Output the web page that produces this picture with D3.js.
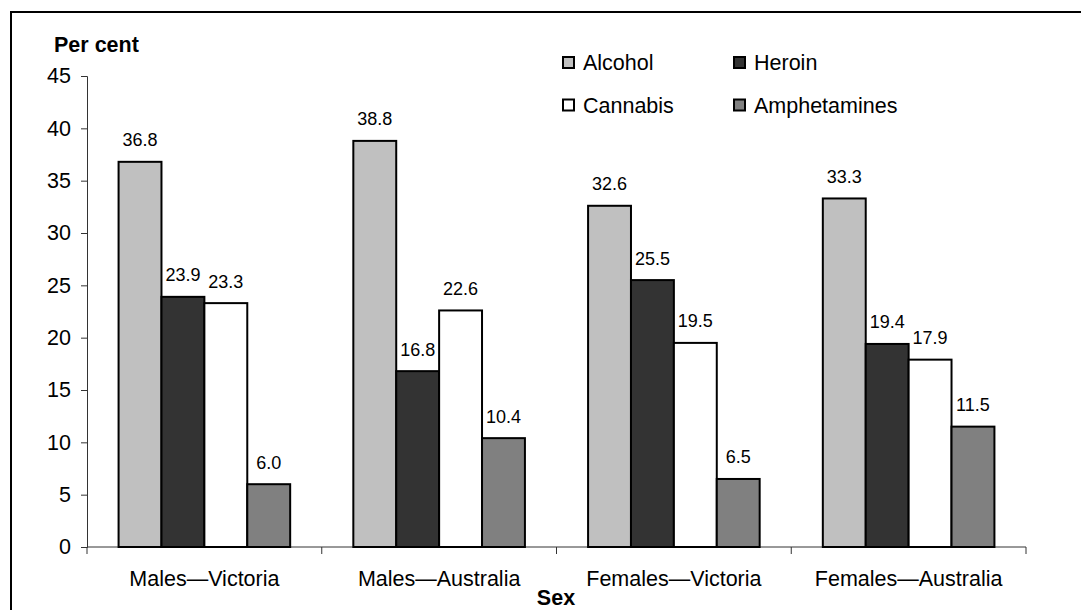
<!DOCTYPE html>
<html>
<head>
<meta charset="utf-8">
<script src="https://cdn.jsdelivr.net/npm/d3@7"></script>
<style>
  html, body { margin: 0; padding: 0; background: #fff; }
  svg { display: block; font-family: "Liberation Sans", Arial, sans-serif; }
</style>
</head>
<body>
<svg id="chart" width="1081" height="610"></svg>
<script>
const categories = ["Males\u2014Victoria", "Males\u2014Australia", "Females\u2014Victoria", "Females\u2014Australia"];
const seriesNames = ["Alcohol", "Heroin", "Cannabis", "Amphetamines"];
const alcohol = [36.8, 38.8, 32.6, 33.3];
const heroin = [23.9, 16.8, 25.5, 19.4];
const cannabis = [23.3, 22.6, 19.5, 17.9];
const amphetamines = [6.0, 10.4, 6.5, 11.5];
const yTicks = [0, 5, 10, 15, 20, 25, 30, 35, 40, 45];
const colors = ["#c0c0c0", "#333333", "#ffffff", "#808080"];

const seriesValues = [alcohol, heroin, cannabis, amphetamines];

const svg = d3.select("#chart");

// frame
svg.append("rect")
  .attr("x", 11).attr("y", 12)
  .attr("width", 1100).attr("height", 700)
  .attr("fill", "none").attr("stroke", "#000").attr("stroke-width", 2);

const plotLeft = 87, plotRight = 1026, plotTop = 76, plotBottom = 547;

const x0 = d3.scaleBand().domain(categories).range([plotLeft, plotRight]).paddingInner(0).paddingOuter(0);
const x1 = d3.scaleBand().domain(seriesNames).range([0, x0.bandwidth()]).paddingInner(0).paddingOuter(0.736);
const y = d3.scaleLinear().domain([0, 45]).range([plotBottom, plotTop]);

// y axis
const yAxis = svg.append("g")
  .attr("transform", `translate(${plotLeft},0)`)
  .call(d3.axisLeft(y).tickValues(yTicks).tickSize(6).tickPadding(10).tickFormat(d3.format("d")));
yAxis.select(".domain").attr("stroke", "#333").attr("stroke-width", 1);
yAxis.selectAll(".tick line").attr("stroke", "#333");
yAxis.selectAll(".tick text")
  .attr("font-family", "Liberation Sans, Arial, sans-serif")
  .attr("font-size", 21.5).attr("fill", "#000");

// x axis
const xAxisG = svg.append("g").attr("transform", `translate(0,${plotBottom})`);
xAxisG.append("line")
  .attr("x1", plotLeft).attr("x2", plotRight)
  .attr("y1", 0).attr("y2", 0)
  .attr("stroke", "#333").attr("stroke-width", 1);
const boundaries = categories.map(c => x0(c)).concat([x0(categories[categories.length - 1]) + x0.bandwidth()]);
xAxisG.selectAll("line.tk").data(boundaries).enter().append("line")
  .attr("class", "tk")
  .attr("x1", d => d).attr("x2", d => d)
  .attr("y1", 0).attr("y2", 7)
  .attr("stroke", "#333").attr("stroke-width", 1);
xAxisG.selectAll("text.cat").data(categories).enter().append("text")
  .attr("class", "cat")
  .attr("x", d => x0(d) + x0.bandwidth() / 2)
  .attr("y", 39)
  .attr("text-anchor", "middle")
  .attr("font-size", 21.5)
  .text(d => d);

// bars
const groups = svg.append("g").selectAll("g")
  .data(categories).enter().append("g")
  .attr("transform", d => `translate(${x0(d)},0)`);

groups.each(function(cat, ci) {
  const g = d3.select(this);
  const rows = seriesNames.map((s, si) => ({ s, si, v: seriesValues[si][ci] }));
  g.selectAll("rect").data(rows).enter().append("rect")
    .attr("x", d => x1(d.s))
    .attr("y", d => y(d.v))
    .attr("width", x1.bandwidth())
    .attr("height", d => y(0) - y(d.v))
    .attr("fill", d => colors[d.si])
    .attr("stroke", "#000")
    .attr("stroke-width", 2);
  g.selectAll("text").data(rows).enter().append("text")
    .attr("x", d => x1(d.s) + x1.bandwidth() / 2)
    .attr("y", d => y(d.v) - 15.5)
    .attr("text-anchor", "middle")
    .attr("font-size", 18)
    .text(d => d.v.toFixed(1));
});

// axis titles
svg.append("text")
  .attr("x", 54).attr("y", 52)
  .attr("font-size", 21.5).attr("font-weight", "bold")
  .text("Per cent");
svg.append("text")
  .attr("x", 556).attr("y", 605)
  .attr("text-anchor", "middle")
  .attr("font-size", 21.5).attr("font-weight", "bold")
  .text("Sex");

// legend
const legendPos = [
  { x: 563, y: 57 }, { x: 734, y: 57 },
  { x: 563, y: 99.5 }, { x: 734, y: 99.5 }
];
const legend = svg.append("g").selectAll("g")
  .data(seriesNames).enter().append("g")
  .attr("transform", (d, i) => `translate(${legendPos[i].x},${legendPos[i].y})`);
legend.append("rect")
  .attr("x", 0).attr("y", 0)
  .attr("width", 11).attr("height", 11)
  .attr("fill", (d, i) => colors[i])
  .attr("stroke", "#000").attr("stroke-width", 2);
legend.append("text")
  .attr("x", 20).attr("y", 13)
  .attr("font-size", 21.5)
  .text(d => d);
</script>
</body>
</html>
